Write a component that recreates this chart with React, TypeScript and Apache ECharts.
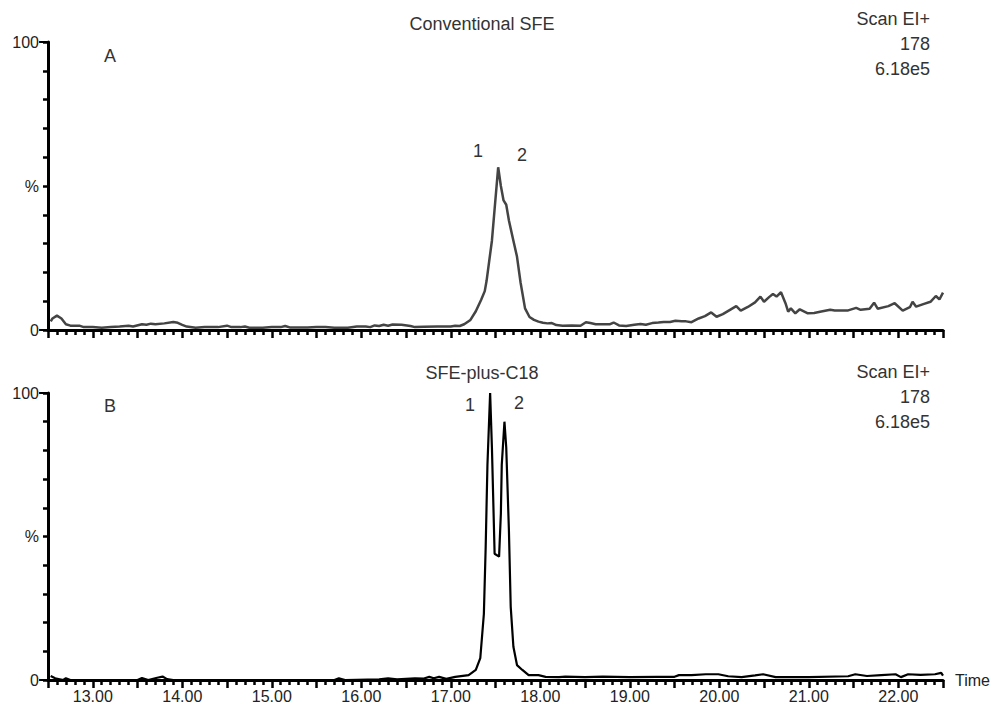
import React, { useEffect, useRef } from "react";
import * as echarts from "echarts";

// Panel A: Conventional SFE (retention time, min / relative abundance, %)
const topTime = [
  12.53, 12.55, 12.6, 12.65, 12.7, 12.75, 12.85, 12.9, 13.0, 13.1, 13.2, 13.3, 13.4, 13.45, 13.55, 13.6, 13.65, 13.7,
  13.8, 13.9, 13.95, 14.0, 14.05, 14.15, 14.25, 14.4, 14.5, 14.55, 14.65, 14.7, 14.75, 14.9, 15.0, 15.1, 15.15, 15.2,
  15.4, 15.5, 15.6, 15.7, 15.85, 15.95, 16.05, 16.1, 16.15, 16.2, 16.25, 16.3, 16.35, 16.45, 16.55, 16.6, 16.7, 16.85,
  17.0, 17.05, 17.1, 17.15, 17.22, 17.28, 17.34, 17.38, 17.4, 17.43, 17.46, 17.49, 17.53, 17.56, 17.59, 17.62, 17.65,
  17.7, 17.74, 17.78, 17.83, 17.88, 17.93, 17.98, 18.03, 18.08, 18.13, 18.18, 18.25, 18.35, 18.45, 18.51, 18.56, 18.62,
  18.7, 18.78, 18.82, 18.88, 18.96, 19.05, 19.12, 19.18, 19.25, 19.32, 19.38, 19.45, 19.51, 19.58, 19.63, 19.69, 19.77,
  19.84, 19.91, 19.97, 20.04, 20.12, 20.19, 20.24, 20.32, 20.4, 20.46, 20.5, 20.56, 20.6, 20.64, 20.69, 20.74, 20.77,
  20.8, 20.85, 20.9, 20.99, 21.06, 21.14, 21.24, 21.29, 21.44, 21.53, 21.58, 21.68, 21.73, 21.77, 21.89, 21.96, 22.05,
  22.13, 22.16, 22.2, 22.28, 22.36, 22.42, 22.46, 22.5,
];
const topPct = [
  3.0, 4.0, 5.0, 4.0, 2.0, 1.5, 1.5, 1.0, 1.0, 0.8, 1.0, 1.2, 1.5, 1.2, 2.0, 1.8, 2.2, 2.0,
  2.3, 2.8, 2.5, 1.8, 1.2, 0.8, 1.0, 1.0, 1.5, 1.0, 1.0, 1.2, 0.8, 0.8, 1.0, 1.0, 1.4, 0.9,
  0.9, 1.0, 1.0, 0.8, 0.8, 1.2, 1.2, 1.0, 1.6, 1.4, 1.8, 1.5, 1.9, 1.8, 1.4, 1.0, 1.1, 1.2,
  1.2, 1.5, 1.4, 2.0, 3.5, 6.5, 10.5, 13.5, 17.0, 24, 31, 42, 56.5, 50, 45, 43.5, 38,
  31, 25.5, 16.5, 7.5, 4.5, 3.5, 2.9, 2.5, 2.3, 2.4, 1.7, 1.5, 1.6, 1.5, 2.7, 2.4, 2.0,
  2.0, 2.0, 2.6, 1.6, 1.4, 1.8, 2.1, 1.8, 2.4, 2.6, 2.8, 2.8, 3.2, 3.0, 3.0, 2.7, 4.0,
  4.8, 6.1, 4.6, 5.5, 7.0, 8.3, 6.7, 8.0, 9.6, 11.6, 9.8, 11.5, 12.5, 11.6, 13.1, 9.3, 6.4,
  7.5, 5.8, 7.2, 5.8, 5.9, 6.4, 7.0, 6.8, 6.8, 7.7, 7.0, 7.4, 9.5, 7.4, 8.3, 9.3, 6.7,
  7.9, 9.8, 8.1, 9.0, 9.8, 11.8, 10.6, 13.0,
];

// Panel B: SFE-plus-C18
const bottomTime = [
  12.53, 12.58, 12.67, 12.7, 12.75, 12.9, 13.0, 13.2, 13.5, 13.55, 13.62, 13.72, 13.78, 13.83, 13.9, 14.5, 15.0, 15.7,
  15.75, 15.82, 16.2, 16.3, 16.4, 16.6, 16.7, 16.76, 16.81, 16.87, 16.95, 17.05, 17.2, 17.28, 17.33, 17.37, 17.39,
  17.41, 17.44, 17.46, 17.49, 17.54, 17.56, 17.57, 17.6, 17.62, 17.65, 17.67, 17.7, 17.74, 17.8, 17.87, 17.98, 18.06,
  18.21, 18.28, 18.5, 18.7, 19.0, 19.3, 19.5, 19.55, 19.69, 19.85, 19.99, 20.1, 20.25, 20.4, 20.49, 20.63, 21.0,
  21.44, 21.52, 21.65, 21.81, 21.97, 22.03, 22.11, 22.25, 22.41, 22.48, 22.5,
];
const bottomPct = [
  1.4, 0.6, 0.0, 0.6, 0.0, 0.0, 0.0, 0.0, 0.0, 0.7, 0.0, 0.8, 1.2, 0.3, 0.0, 0.0, 0.0, 0.0,
  0.6, 0.0, 0.2, 0.6, 0.2, 0.6, 0.5, 1.1, 0.6, 1.1, 0.4, 1.1, 1.7, 3.5, 7.6, 23, 46,
  75, 100, 81, 44, 43, 58, 75, 90, 81, 52, 25.5, 11.6, 5.2, 3.5, 1.7, 1.7, 1.1,
  1.0, 1.2, 1.0, 1.2, 1.0, 1.1, 1.1, 1.7, 1.7, 2.0, 2.0, 1.3, 1.0, 1.6, 2.0, 1.0, 1.0,
  1.3, 2.0, 1.4, 1.7, 2.0, 1.0, 2.0, 1.8, 2.0, 2.5, 1.5,
];

const xTickLabels = ["13.00", "14.00", "15.00", "16.00", "17.00", "18.00", "19.00", "20.00", "21.00", "22.00"];
const yLabelValues = [0, 50, 100];
const yLabelTexts = ["0", "%", "100"];
const panelTitles = ["Conventional SFE", "SFE-plus-C18"];
const panelLetters = ["A", "B"];
const scanInfo = ["Scan EI+", "178", "6.18e5"];
const peakNames = ["1", "2"];

const FONT = "'Liberation Sans', Arial, sans-serif";

function pairs(t: number[], v: number[]) {
  return t.map((x, i) => [x, v[i]]);
}

export default function App() {
  const ref = useRef<HTMLDivElement>(null);

  useEffect(() => {
    if (!ref.current) return;
    const chart = echarts.init(ref.current, null, { renderer: "svg" });

    const grids = [
      { left: 48, right: 52, top: 42, height: 288 },
      { left: 48, right: 52, top: 393, height: 287 },
    ];

    const xAxisBase = (gi: number, showLabels: boolean) => ({
      type: "value",
      gridIndex: gi,
      min: 12.5,
      max: 22.5,
      interval: 0.5,
      axisLine: { show: true, lineStyle: { color: "#000", width: 3 } },
      axisTick: { show: true, length: 8, lineStyle: { color: "#000", width: 2.5 } },
      minorTick: { show: true, splitNumber: 5, length: 5, lineStyle: { color: "#000", width: 2.5 } },
      splitLine: { show: false },
      minorSplitLine: { show: false },
      axisLabel: {
        show: showLabels,
        margin: 8,
        fontFamily: FONT,
        fontSize: 16,
        color: "#222",
        formatter: (v: number) => {
          const s = v.toFixed(2);
          return xTickLabels.includes(s) ? s : "";
        },
      },
      name: showLabels ? "Time" : "",
      nameLocation: "end",
      nameGap: 12,
      nameTextStyle: { fontFamily: FONT, fontSize: 16, color: "#222", verticalAlign: "middle" },
    });

    const yAxisMain = (gi: number) => ({
      type: "value",
      gridIndex: gi,
      min: 0,
      max: 100,
      interval: 10,
      axisLine: { show: true, lineStyle: { color: "#000", width: 3 } },
      axisTick: { show: true, length: 5, lineStyle: { color: "#000", width: 2.5 } },
      splitLine: { show: false },
      axisLabel: {
        show: true,
        customValues: yLabelValues,
        margin: 9,
        fontFamily: FONT,
        fontSize: 16,
        color: "#222",
        formatter: (v: number) => {
          const i = yLabelValues.indexOf(v);
          return i >= 0 ? yLabelTexts[i] : "";
        },
      },
    });

    const yAxisLong = (gi: number) => ({
      type: "value",
      gridIndex: gi,
      position: "left",
      min: 0,
      max: 100,
      interval: 100,
      axisLine: { show: false },
      axisTick: { show: true, length: 9, lineStyle: { color: "#000", width: 2 } },
      splitLine: { show: false },
      axisLabel: { show: false },
    });

    const txt = (x: number, y: number, text: string, align: string, size = 18, color = "#333") => ({
      type: "text",
      x,
      y,
      style: {
        text,
        fill: color,
        font: `${size}px ${FONT}`,
        textAlign: align,
        textVerticalAlign: "middle",
      },
    });

    const graphics: any[] = [
      txt(482, 24, panelTitles[0], "center"),
      txt(482, 373, panelTitles[1], "center"),
      txt(110, 56, panelLetters[0], "center"),
      txt(110, 406, panelLetters[1], "center"),
      txt(930, 19, scanInfo[0], "right"),
      txt(930, 44, scanInfo[1], "right"),
      txt(930, 69, scanInfo[2], "right"),
      txt(930, 372, scanInfo[0], "right"),
      txt(930, 397, scanInfo[1], "right"),
      txt(930, 422, scanInfo[2], "right"),
      txt(478, 151, peakNames[0], "center"),
      txt(522, 155, peakNames[1], "center"),
      txt(470, 405, peakNames[0], "center"),
      txt(519, 403, peakNames[1], "center"),
    ];

    chart.setOption({
      animation: false,
      backgroundColor: "#fff",
      grid: grids,
      xAxis: [xAxisBase(0, false), xAxisBase(1, true)],
      yAxis: [yAxisMain(0), yAxisMain(1), yAxisLong(0), yAxisLong(1)],
      series: [
        {
          type: "line",
          xAxisIndex: 0,
          yAxisIndex: 0,
          data: pairs(topTime, topPct),
          showSymbol: false,
          clip: false,
          lineStyle: { color: "#444", width: 2.5 },
          z: 5,
        },
        {
          type: "line",
          xAxisIndex: 1,
          yAxisIndex: 1,
          data: pairs(bottomTime, bottomPct),
          showSymbol: false,
          clip: false,
          lineStyle: { color: "#000", width: 2.2 },
          z: 5,
        },
      ],
      graphic: graphics,
    });

    return () => chart.dispose();
  }, []);

  return (
    <div
      ref={ref}
      style={{ position: "fixed", left: 0, top: 0, width: 995, height: 711, background: "#fff" }}
    />
  );
}
